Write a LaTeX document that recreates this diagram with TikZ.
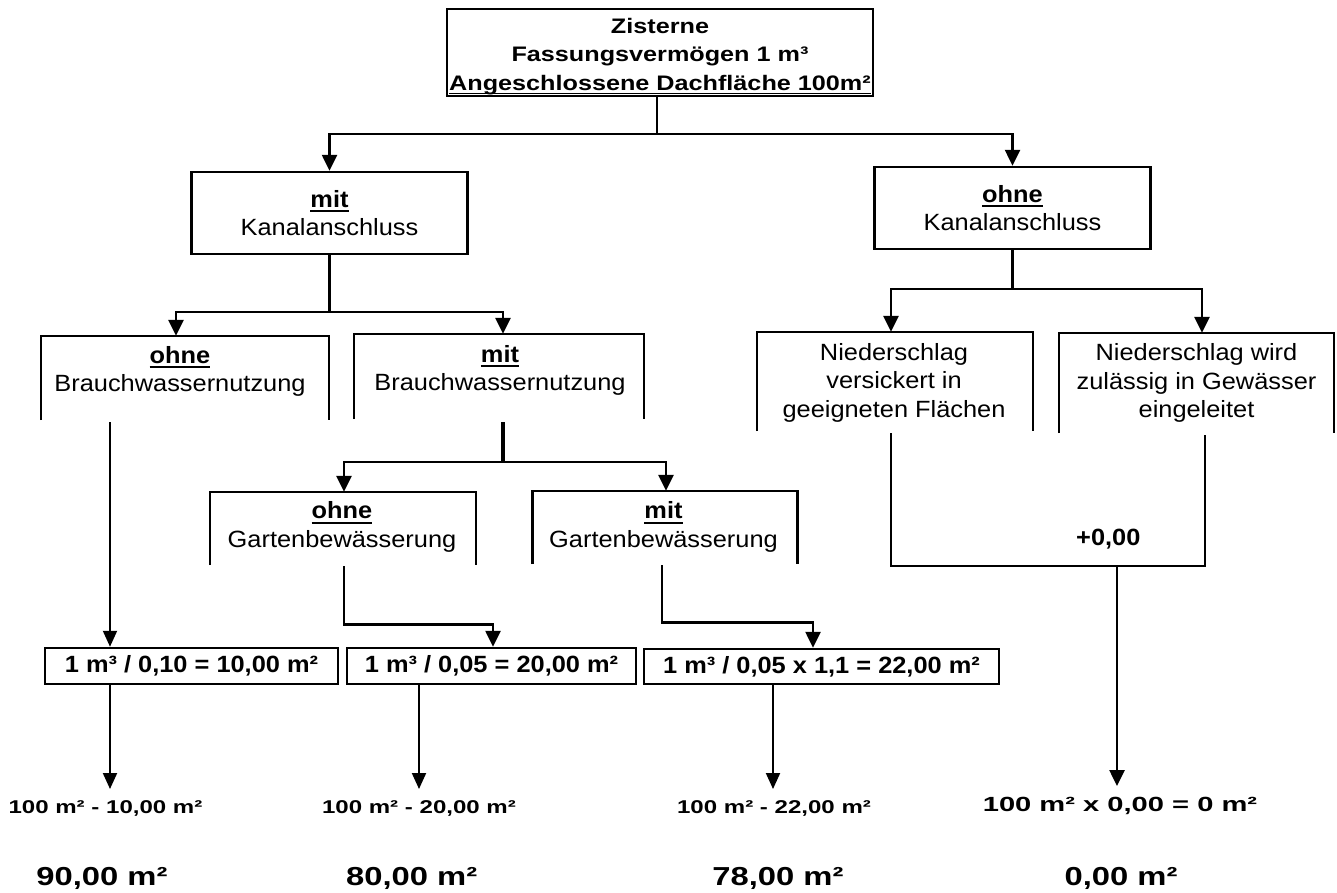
\documentclass[tikz,border=0pt]{standalone}
\usepackage{fontspec}
\setmainfont{Liberation Sans}
\newfontfamily\fntA[FakeStretch=1.08]{Liberation Sans}
\newfontfamily\fntB[FakeStretch=1.2]{Liberation Sans}
\newfontfamily\fntC[FakeStretch=1.3]{Liberation Sans}
\newfontfamily\fntD[FakeStretch=1.42]{Liberation Sans}
\newfontfamily\fntE[FakeStretch=1.26]{Liberation Sans}
\usetikzlibrary{arrows.meta}
\newcommand\ulx[1]{\leavevmode\setbox0=\hbox{#1}\rlap{\rule[-5pt]{\wd0}{2pt}}\box0}
\newcommand\ulz[1]{\leavevmode\setbox0=\hbox{#1}\rlap{\rule[-4pt]{\wd0}{1.8pt}}\box0}
\begin{document}
\begin{tikzpicture}[x=1pt,y=-1pt,
  every node/.style={inner sep=0pt},
  conn/.style={line width=2.6pt},
  arr/.style={conn,-{Triangle[width=15pt,length=16pt]}},
  tarr/.style={line width=2pt,-{Triangle[width=14pt,length=16pt]}},
  frame/.style={draw,line width=2.5pt},
  openln/.style={line width=2.5pt},
  lbl/.style={align=center,font=\fntA\fontsize{23.5}{28.5}\selectfont},
  calcbox/.style={draw,line width=2.5pt,font=\fntA\bfseries\fontsize{23.5}{28.5}\selectfont},
  res/.style={font=\fntC\bfseries\fontsize{18.5}{22}\selectfont},
  fin/.style={font=\fntE\bfseries\fontsize{26}{30}\selectfont}]
\fill[white] (0,0) rectangle (1337,892);
\useasboundingbox (0,0) rectangle (1337,892);

% top box
\node[draw,line width=2pt,minimum width=426pt,minimum height=87pt] (top) at (660,52.5) {};
\node[align=center,font=\fntB\bfseries\fontsize{21}{28.6}\selectfont] (topt) at (660,56.45)
  {Zisterne\\Fassungsvermögen 1 m³\\\ulz{Angeschlossene Dachfläche 100m²}};

% Kanal boxes
\node[frame,lbl,minimum width=276pt,minimum height=82pt] (mitK) at (329.5,213) {\ulx{\bfseries mit}\\Kanalanschluss};
\node[frame,lbl,minimum width=276pt,minimum height=82pt] (ohneK) at (1012.5,208) {\ulx{\bfseries ohne}\\Kanalanschluss};

% open boxes
\node[minimum width=288pt,minimum height=84pt] (ohneB) at (185,378) {};
\node[minimum width=290pt,minimum height=85pt] (mitB) at (499,376.5) {};
\node[minimum width=276pt,minimum height=99pt] (vers) at (895,381.5) {};
\node[minimum width=275pt,minimum height=100pt] (gew) at (1196.5,383) {};
\node[minimum width=266pt,minimum height=73pt] (ohneG) at (343,528.5) {};
\node[minimum width=265pt,minimum height=73pt] (mitG) at (665,527.5) {};
\foreach \n in {ohneB,mitB,vers,gew,ohneG,mitG}
  \draw[openln] (\n.south west) -- (\n.north west) -- (\n.north east) -- (\n.south east);

\node[lbl] (ohneBt) at (180,371.6) {\ulx{\bfseries ohne}\\Brauchwassernutzung};
\node[lbl] (mitBt) at (500,370.6) {\ulx{\bfseries mit}\\Brauchwassernutzung};
\node[lbl] (verst) at (894,382.5) {Niederschlag\\versickert in\\geeigneten Flächen};
\node[lbl] (gewt) at (1196.5,383.1) {Niederschlag wird\\zulässig in Gewässer\\eingeleitet};
\node[lbl] (ohneGt) at (342,527) {\ulx{\bfseries ohne}\\Gartenbewässerung};
\node[lbl] (mitGt) at (663.5,527) {\ulx{\bfseries mit}\\Gartenbewässerung};

% formula boxes
\node[calcbox,minimum width=293pt,minimum height=36pt] (f1) at (191.5,666) {1 m³ / 0,10 = 10,00 m²};
\node[calcbox,minimum width=289pt,minimum height=36pt] (f2) at (491.5,666) {1 m³ / 0,05 = 20,00 m²};
\node[calcbox,minimum width=355pt,minimum height=35pt] (f3) at (821.5,666.5) {1 m³ / 0,05 x 1,1 = 22,00 m²};

\node[font=\fntA\bfseries\fontsize{23.5}{28}\selectfont] (plus) at (1108.3,539.3) {+0,00};

% results
\node[res] (b1) at (105.5,808) {100 m² - 10,00 m²};
\node[res] (b2) at (419,808) {100 m² - 20,00 m²};
\node[res] (b3) at (774,808) {100 m² - 22,00 m²};
\node[font=\fntD\bfseries\fontsize{20.5}{24}\selectfont] (b4) at (1120,805.8) {100 m² x 0,00 = 0 m²};
\node[fin] (r1) at (102,878.5) {90,00 m²};
\node[fin] (r2) at (411.7,878.5) {80,00 m²};
\node[fin] (r3) at (778,878.5) {78,00 m²};
\node[fin] (r4) at (1121,878.5) {0,00 m²};

% junctions
\coordinate (j1) at (657,134);
\coordinate (j2) at (329.5,312);
\coordinate (j3) at (503,462);
\coordinate (j4) at (1012.5,289);
\coordinate (m1) at (1117,566);
\coordinate (t1) at (110,789);
\coordinate (t2) at (419,789);
\coordinate (t3) at (773,789);
\coordinate (t4) at (1117,786);

% connectors
\draw[conn] ([xshift=-3pt]top.south) -- (j1);
\draw[arr] (j1) -| (mitK.north);
\draw[arr] (j1) -| (ohneK.north);
\draw[conn] (mitK.south) -- (j2);
\draw[arr] (j2) -| ([xshift=-9pt]ohneB.north);
\draw[arr] (j2) -| ([xshift=4pt]mitB.north);
\draw[line width=3.8pt] ([xshift=4pt,yshift=-3pt]mitB.south) -- (j3);
\draw[arr] (j3) -| ([xshift=1pt]ohneG.north);
\draw[arr] (j3) -| ([xshift=1pt]mitG.north);
\draw[tarr] ([xshift=-75pt,yshift=-2pt]ohneB.south) -- ([xshift=-81.5pt]f1.north);
\draw[arr] ([xshift=1pt,yshift=-1pt]ohneG.south) -- ++(0,58) -| ([xshift=1.5pt]f2.north);
\draw[arr] ([xshift=-3pt,yshift=-1pt]mitG.south) -- ++(0,57) -| ([xshift=-8.5pt]f3.north);
\draw[conn] (ohneK.south) -- (j4);
\draw[arr] (j4) -| ([xshift=-4pt]vers.north);
\draw[arr] (j4) -| ([xshift=5.5pt]gew.north);
\draw[conn] ([xshift=-4pt,yshift=-2pt]vers.south) |- (m1) -| ([xshift=8.5pt,yshift=-2pt]gew.south);
\draw[arr] (m1) -- (t4);
\draw[tarr] ([xshift=-81.5pt]f1.south) -- (t1);
\draw[tarr] ([xshift=-72.5pt]f2.south) -- (t2);
\draw[tarr] ([xshift=-48.5pt]f3.south) -- (t3);
\end{tikzpicture}
\end{document}
